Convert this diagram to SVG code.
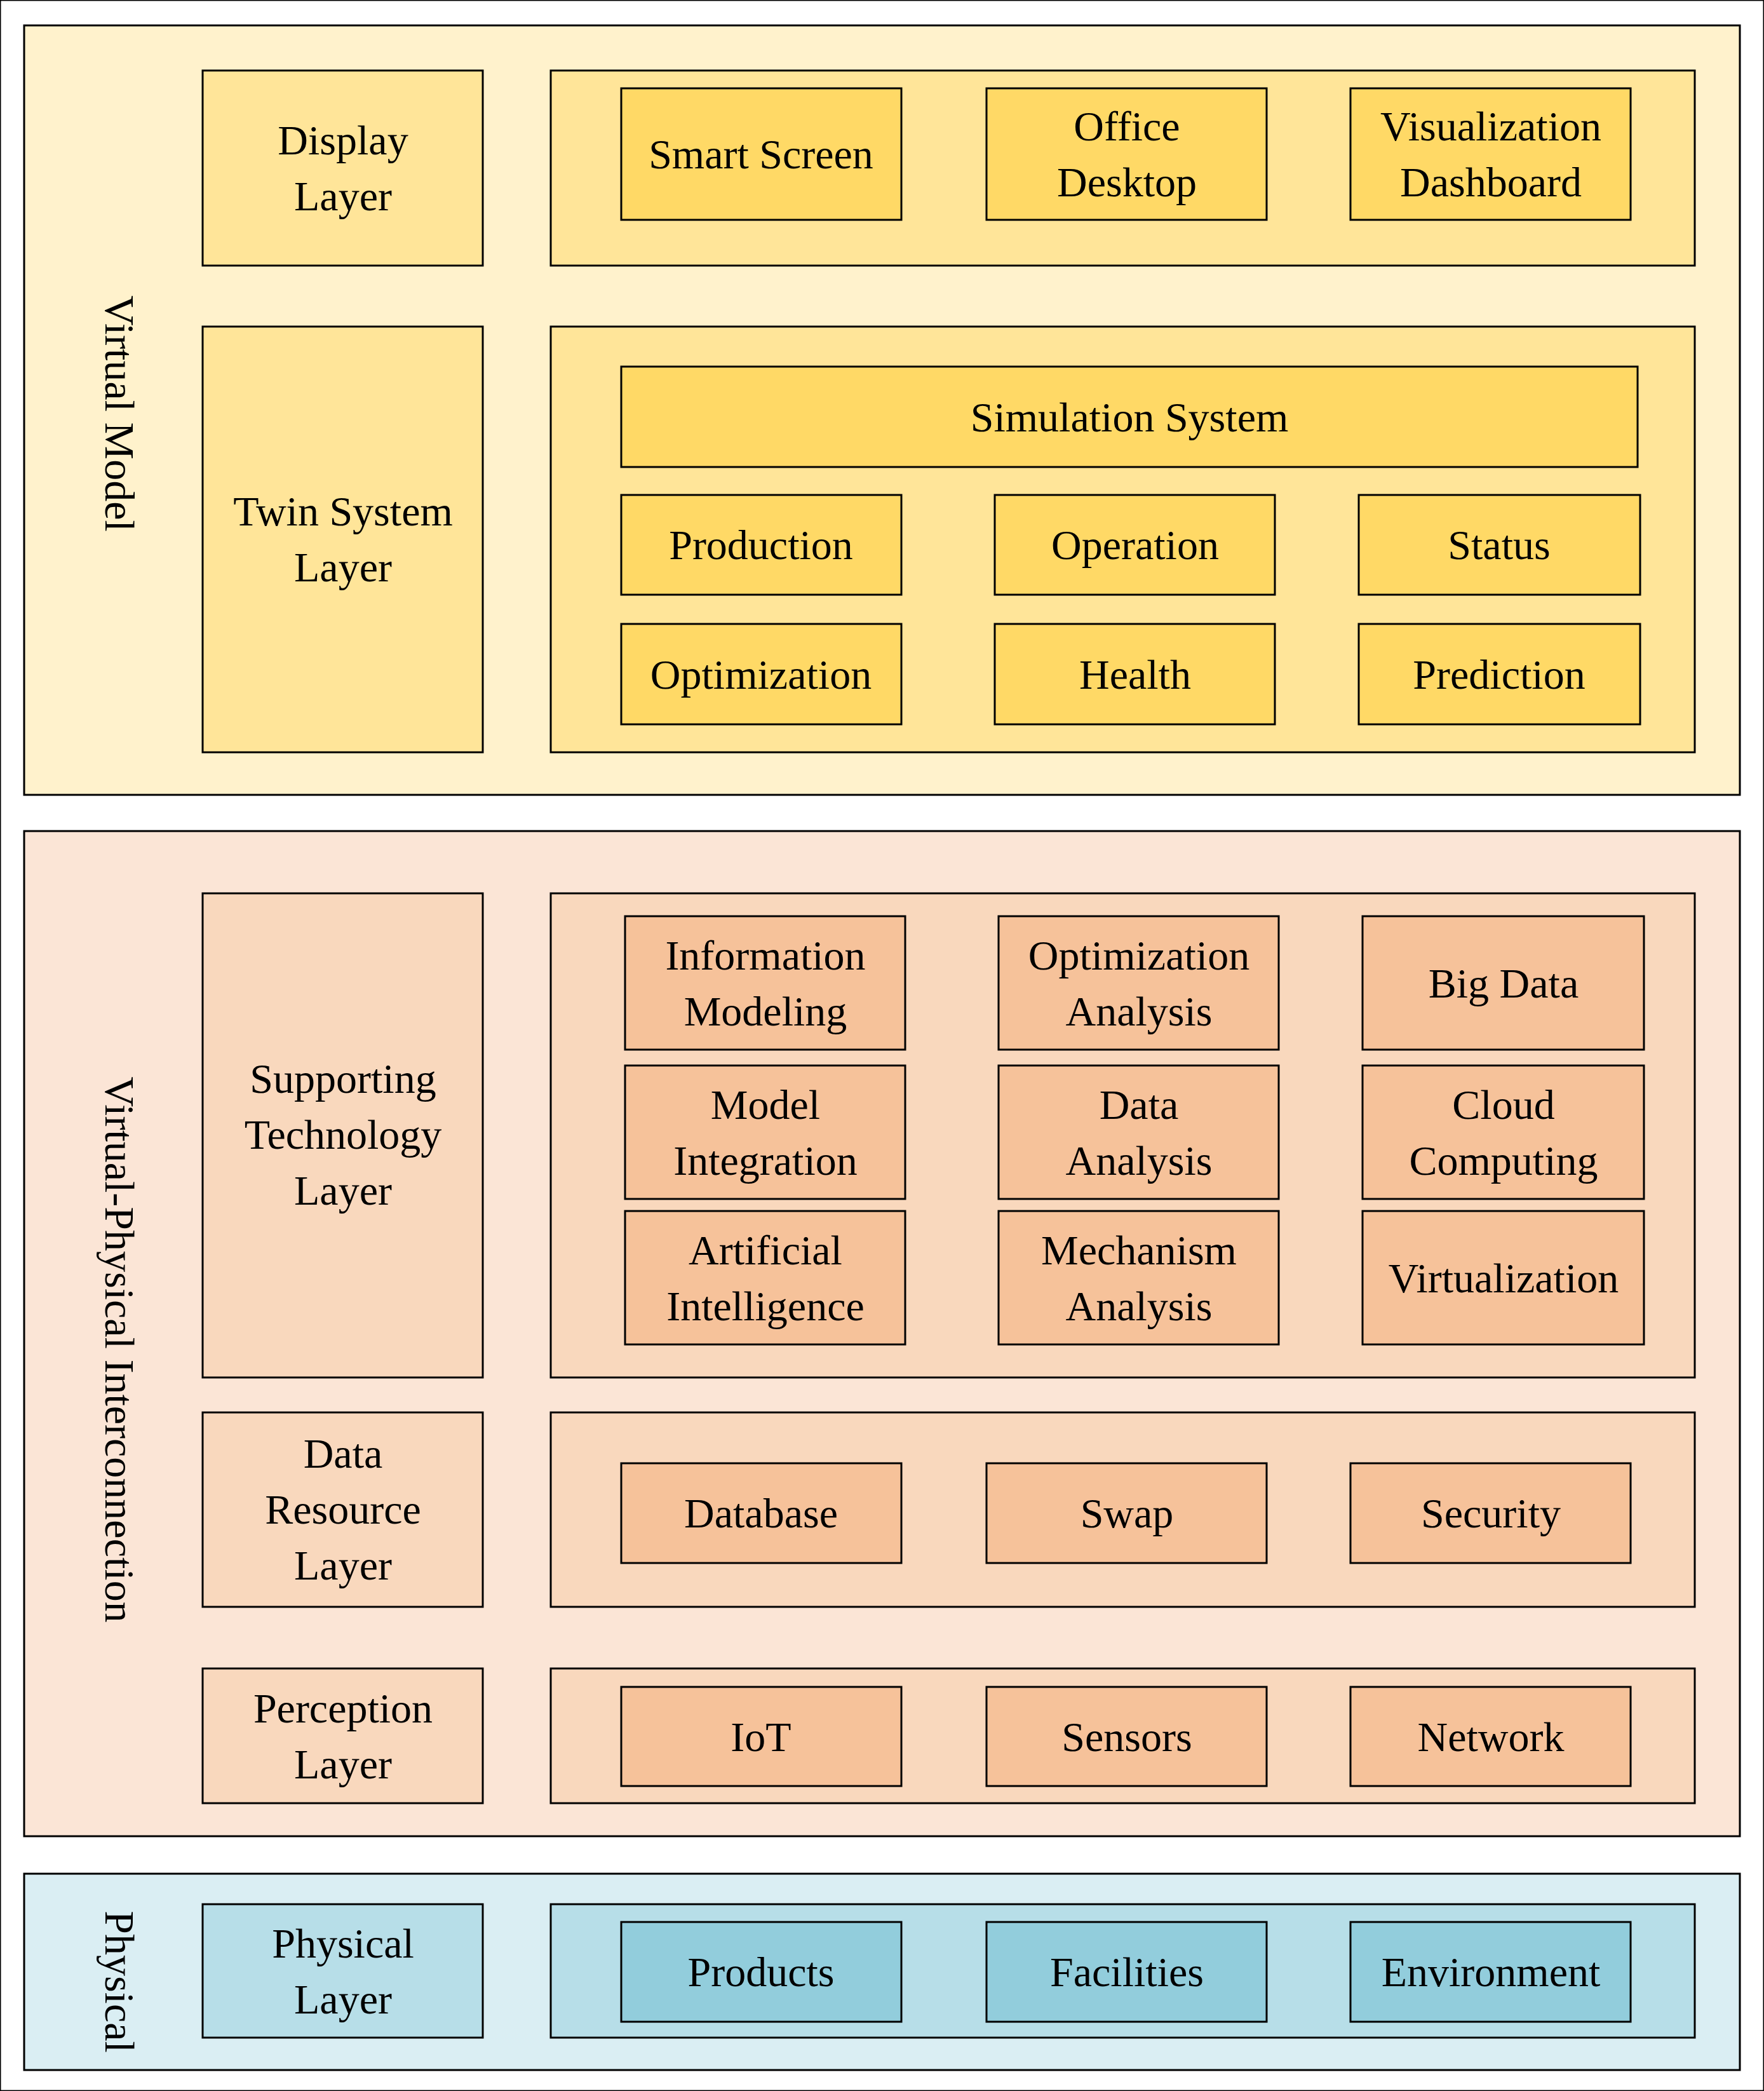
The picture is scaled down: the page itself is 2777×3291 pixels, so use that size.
<svg xmlns="http://www.w3.org/2000/svg" width="2777" height="3291" viewBox="0 0 2777 3291">
<style>
rect{stroke:#000;stroke-width:3}
text{font-family:"Liberation Serif","Times New Roman",serif;font-size:66px;text-anchor:middle;fill:#000}
.o1{fill:#FFF2CC}.c1{fill:#FFE599}.i1{fill:#FFD966}
.o2{fill:#FBE5D6}.c2{fill:#F9D8BD}.i2{fill:#F6C29A}
.o3{fill:#DAEEF3}.c3{fill:#B7DEE8}.i3{fill:#92CDDC}
</style>
<rect fill="#fff" stroke="none" x="0" y="0" width="2777" height="3291"/>
<g id="virtual-model">
<rect class="o1" x="38" y="40" width="2701" height="1211"/>
<text transform="translate(189,651) rotate(90)" dy="23">Virtual Model</text>
</g>
<g id="display-layer"><rect class="c1" x="319" y="111" width="441" height="307"/><text x="540" y="243">Display</text><text x="540" y="331">Layer</text></g>
<g id="display-container"><rect class="c1" x="867" y="111" width="1801" height="307"/></g>
<g id="smart-screen"><rect class="i1" x="978" y="139" width="441" height="207"/><text x="1198" y="265">Smart Screen</text></g>
<g id="office-desktop"><rect class="i1" x="1553" y="139" width="441" height="207"/><text x="1774" y="221">Office</text><text x="1774" y="309">Desktop</text></g>
<g id="visualization-dashboard"><rect class="i1" x="2126" y="139" width="441" height="207"/><text x="2347" y="221">Visualization</text><text x="2347" y="309">Dashboard</text></g>
<g id="twin-layer"><rect class="c1" x="319" y="514" width="441" height="670"/><text x="540" y="827">Twin System</text><text x="540" y="915">Layer</text></g>
<g id="twin-container"><rect class="c1" x="867" y="514" width="1801" height="670"/></g>
<g id="simulation-system"><rect class="i1" x="978" y="577" width="1600" height="158"/><text x="1778" y="679">Simulation System</text></g>
<g id="production"><rect class="i1" x="978" y="779" width="441" height="157"/><text x="1198" y="880">Production</text></g>
<g id="operation"><rect class="i1" x="1566" y="779" width="441" height="157"/><text x="1787" y="880">Operation</text></g>
<g id="status"><rect class="i1" x="2139" y="779" width="443" height="157"/><text x="2360" y="880">Status</text></g>
<g id="optimization"><rect class="i1" x="978" y="982" width="441" height="158"/><text x="1198" y="1084">Optimization</text></g>
<g id="health"><rect class="i1" x="1566" y="982" width="441" height="158"/><text x="1787" y="1084">Health</text></g>
<g id="prediction"><rect class="i1" x="2139" y="982" width="443" height="158"/><text x="2360" y="1084">Prediction</text></g>

<g id="virtual-physical">
<rect class="o2" x="38" y="1308" width="2701" height="1582"/>
<text transform="translate(189,2124) rotate(90)" dy="23">Virtual-Physical Interconnection</text>
</g>
<g id="supporting-layer"><rect class="c2" x="319" y="1406" width="441" height="762"/><text x="540" y="1720">Supporting</text><text x="540" y="1808">Technology</text><text x="540" y="1896">Layer</text></g>
<g id="supporting-container"><rect class="c2" x="867" y="1406" width="1801" height="762"/></g>
<g id="information-modeling"><rect class="i2" x="984" y="1442" width="441" height="210"/><text x="1205" y="1526">Information</text><text x="1205" y="1614">Modeling</text></g>
<g id="optimization-analysis"><rect class="i2" x="1572" y="1442" width="441" height="210"/><text x="1793" y="1526">Optimization</text><text x="1793" y="1614">Analysis</text></g>
<g id="big-data"><rect class="i2" x="2145" y="1442" width="443" height="210"/><text x="2367" y="1570">Big Data</text></g>
<g id="model-integration"><rect class="i2" x="984" y="1677" width="441" height="210"/><text x="1205" y="1761">Model</text><text x="1205" y="1849">Integration</text></g>
<g id="data-analysis"><rect class="i2" x="1572" y="1677" width="441" height="210"/><text x="1793" y="1761">Data</text><text x="1793" y="1849">Analysis</text></g>
<g id="cloud-computing"><rect class="i2" x="2145" y="1677" width="443" height="210"/><text x="2367" y="1761">Cloud</text><text x="2367" y="1849">Computing</text></g>
<g id="artificial-intelligence"><rect class="i2" x="984" y="1906" width="441" height="210"/><text x="1205" y="1990">Artificial</text><text x="1205" y="2078">Intelligence</text></g>
<g id="mechanism-analysis"><rect class="i2" x="1572" y="1906" width="441" height="210"/><text x="1793" y="1990">Mechanism</text><text x="1793" y="2078">Analysis</text></g>
<g id="virtualization"><rect class="i2" x="2145" y="1906" width="443" height="210"/><text x="2367" y="2034">Virtualization</text></g>
<g id="data-resource-layer"><rect class="c2" x="319" y="2223" width="441" height="306"/><text x="540" y="2310">Data</text><text x="540" y="2398">Resource</text><text x="540" y="2486">Layer</text></g>
<g id="data-container"><rect class="c2" x="867" y="2223" width="1801" height="306"/></g>
<g id="database"><rect class="i2" x="978" y="2303" width="441" height="157"/><text x="1198" y="2404">Database</text></g>
<g id="swap"><rect class="i2" x="1553" y="2303" width="441" height="157"/><text x="1774" y="2404">Swap</text></g>
<g id="security"><rect class="i2" x="2126" y="2303" width="441" height="157"/><text x="2347" y="2404">Security</text></g>
<g id="perception-layer"><rect class="c2" x="319" y="2626" width="441" height="212"/><text x="540" y="2711">Perception</text><text x="540" y="2799">Layer</text></g>
<g id="perception-container"><rect class="c2" x="867" y="2626" width="1801" height="212"/></g>
<g id="iot"><rect class="i2" x="978" y="2655" width="441" height="156"/><text x="1198" y="2756">IoT</text></g>
<g id="sensors"><rect class="i2" x="1553" y="2655" width="441" height="156"/><text x="1774" y="2756">Sensors</text></g>
<g id="network"><rect class="i2" x="2126" y="2655" width="441" height="156"/><text x="2347" y="2756">Network</text></g>

<g id="physical">
<rect class="o3" x="38" y="2949" width="2701" height="309"/>
<text transform="translate(189,3119) rotate(90)" dy="23">Physical</text>
</g>
<g id="physical-layer"><rect class="c3" x="319" y="2997" width="441" height="210"/><text x="540" y="3081">Physical</text><text x="540" y="3169">Layer</text></g>
<g id="physical-container"><rect class="c3" x="867" y="2997" width="1801" height="210"/></g>
<g id="products"><rect class="i3" x="978" y="3025" width="441" height="157"/><text x="1198" y="3126">Products</text></g>
<g id="facilities"><rect class="i3" x="1553" y="3025" width="441" height="157"/><text x="1774" y="3126">Facilities</text></g>
<g id="environment"><rect class="i3" x="2126" y="3025" width="441" height="157"/><text x="2347" y="3126">Environment</text></g>
<g id="connectors"></g>
</svg>
